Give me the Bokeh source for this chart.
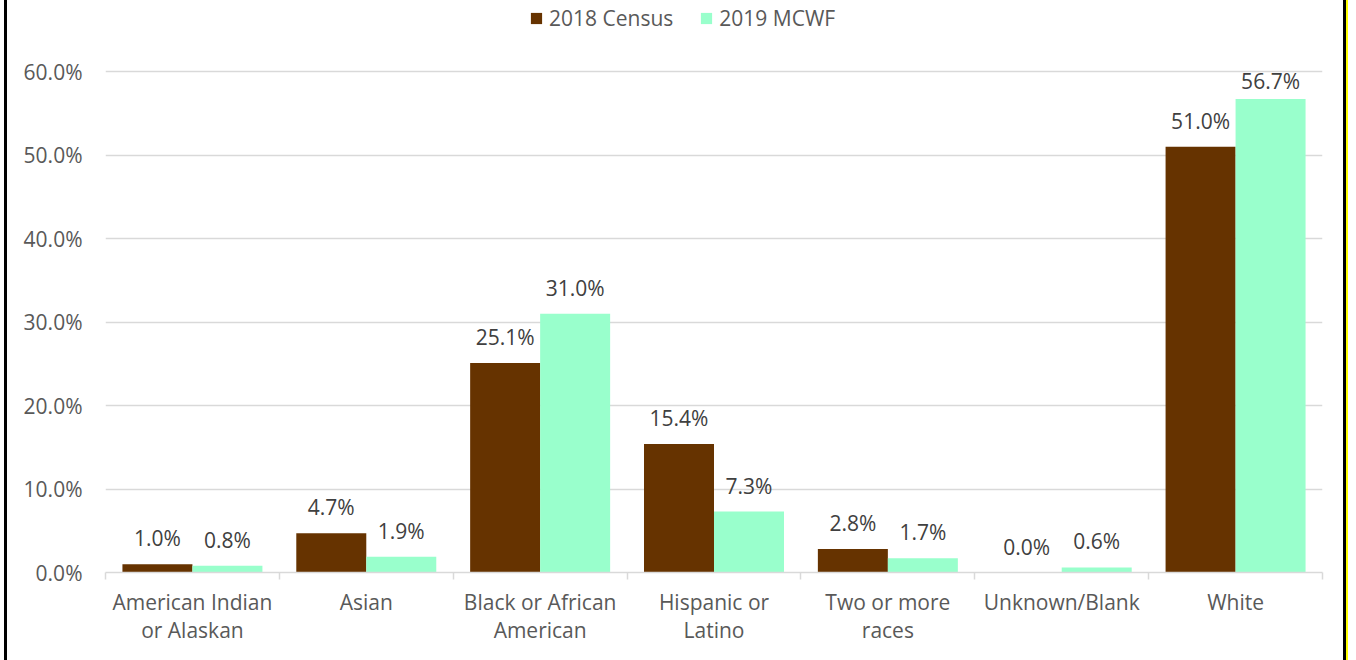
from bokeh.plotting import figure
from bokeh.models import (ColumnDataSource, Range1d, FixedTicker, NumeralTickFormatter,
                          Legend, LegendItem)
from bokeh.transform import dodge
from bokeh.core.properties import value
from bokeh.embed import file_html
from bokeh.resources import INLINE

categories = ["American Indian\nor Alaskan", "Asian", "Black or African\nAmerican",
              "Hispanic or\nLatino", "Two or more\nraces", "Unknown/Blank", "White"]
census_2018 = [0.010, 0.047, 0.251, 0.154, 0.028, 0.000, 0.510]
mcwf_2019 = [0.008, 0.019, 0.310, 0.073, 0.017, 0.006, 0.567]
series_names = ["2018 Census", "2019 MCWF"]
y_ticks = [0.0, 0.1, 0.2, 0.3, 0.4, 0.5, 0.6]

FONT = "Open Sans"
BROWN = "#663300"
GREEN = "#99FFCC"
AXIS_TXT = "#595959"
LBL_TXT = "#404040"
GRID = "#d9d9d9"
FS = "21px"

n = len(categories)
xc = [i + 0.5 for i in range(n)]
# labels are kept inside the plot area (like the spreadsheet does)
label_cap = 0.557
src = ColumnDataSource(dict(
    x=xc,
    census=census_2018,
    mcwf=mcwf_2019,
    census_ly=[min(v, label_cap) for v in census_2018],
    mcwf_ly=[min(v, label_cap) for v in mcwf_2019],
    census_lbl=[f"{v*100:.1f}%" for v in census_2018],
    mcwf_lbl=[f"{v*100:.1f}%" for v in mcwf_2019],
))

# frame spans from canvas top (y=0) to the 0% line (y=572); 60% sits at y=71
y_top = 0.6 * 572 / (572 - 71)
p = figure(width=1342, height=660, output_backend="svg", toolbar_location=None,
           x_range=Range1d(0, n), y_range=Range1d(0, y_top),
           min_border_left=98, min_border_right=27, min_border_top=0, min_border_bottom=88)
p.outline_line_color = None
p.background_fill_color = "white"
p.border_fill_color = "white"
p.styles = {"margin-left": "4px", "border-left": "3px solid black",
            "border-right": "3px solid black", "box-shadow": "2px 0 0 #ffff00"}

bw = 0.4026
off = bw / 2
r1 = p.vbar(x=dodge("x", -off), top="census", width=bw, source=src, fill_color=BROWN, line_color=None)
r2 = p.vbar(x=dodge("x", off), top="mcwf", width=bw, source=src, fill_color=GREEN, line_color=None)

p.text(x=dodge("x", -off), y="census_ly", text="census_lbl", source=src,
       text_align="center", text_baseline="alphabetic", y_offset=-26,
       text_font=value(FONT), text_font_size=FS, text_color=LBL_TXT)
p.text(x=dodge("x", off), y="mcwf_ly", text="mcwf_lbl", source=src,
       text_align="center", text_baseline="alphabetic", y_offset=-26,
       text_font=value(FONT), text_font_size=FS, text_color=LBL_TXT)

# y axis
p.yaxis.ticker = FixedTicker(ticks=y_ticks)
p.yaxis.formatter = NumeralTickFormatter(format="0.0%")
p.yaxis.axis_line_color = None
p.yaxis.major_tick_line_color = None
p.yaxis.minor_tick_line_color = None
p.yaxis.major_tick_out = 0
p.yaxis.major_label_standoff = 23
p.yaxis.major_label_text_font = FONT
p.yaxis.major_label_text_font_size = FS
p.yaxis.major_label_text_color = AXIS_TXT

p.ygrid.ticker = FixedTicker(ticks=y_ticks)
p.ygrid.grid_line_color = GRID
p.ygrid.grid_line_width = 1.5
p.xgrid.grid_line_color = None

# x axis
p.xaxis.ticker = FixedTicker(ticks=xc, minor_ticks=list(range(n + 1)))
p.xaxis.major_label_overrides = {x: c for x, c in zip(xc, categories)}
p.xaxis.axis_line_color = GRID
p.xaxis.axis_line_width = 1.5
p.xaxis.major_tick_line_color = None
p.xaxis.major_tick_out = 0
p.xaxis.major_tick_in = 0
p.xaxis.minor_tick_line_color = GRID
p.xaxis.minor_tick_line_width = 1.5
p.xaxis.minor_tick_out = 7
p.xaxis.minor_tick_in = 0
p.xaxis.major_label_standoff = 8
p.xaxis.major_label_text_font = FONT
p.xaxis.major_label_text_font_size = FS
p.xaxis.major_label_text_color = AXIS_TXT
p.xaxis.major_label_text_line_height = 1.0

legend = Legend(items=[LegendItem(label=series_names[0], renderers=[r1]),
                       LegendItem(label=series_names[1], renderers=[r2])],
                orientation="horizontal", location=(424, 540),
                padding=0, margin=0, spacing=26, label_standoff=6,
                glyph_width=14, glyph_height=14,
                label_text_font=FONT, label_text_font_size=FS,
                label_text_color=AXIS_TXT, border_line_color=None,
                background_fill_alpha=0)
p.add_layout(legend, "center")

open("out.html", "w").write(file_html(p, INLINE))
